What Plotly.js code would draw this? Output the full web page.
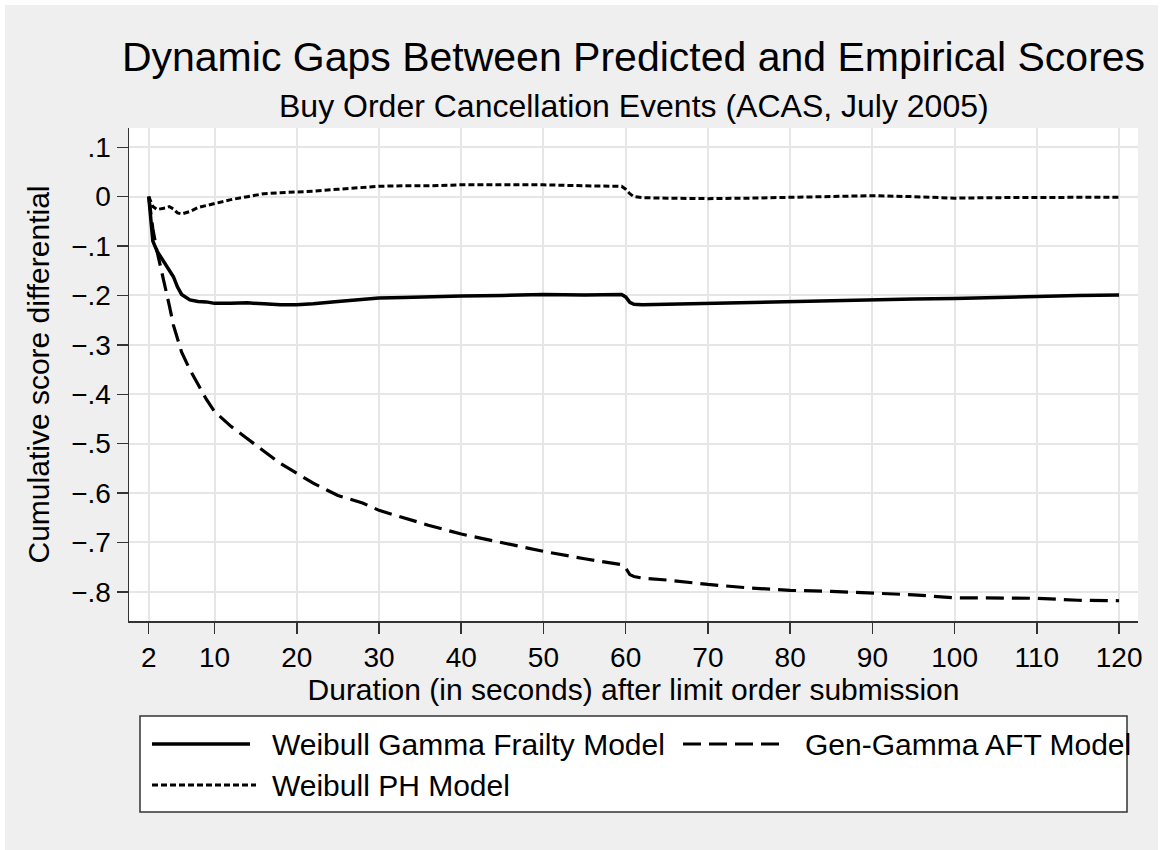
<!DOCTYPE html>
<html>
<head>
<meta charset="utf-8">
<script src="https://cdn.plot.ly/plotly-3.0.1.min.js"></script>
<style>
  html, body { margin: 0; padding: 0; background: #ffffff; }
  #chart { position: absolute; left: 5px; top: 5px; width: 1153px; height: 845px; }
</style>
</head>
<body>
<div id="chart"></div>
<script>
// ---- data ----
const durations = [2, 2.5, 3, 3.5, 4, 4.5, 5, 5.5, 6, 7, 8, 9, 10, 12, 14, 16, 18, 20, 22, 25, 28, 30, 33, 36, 40, 45, 50, 55, 59.5, 60, 60.5, 61, 62, 65, 70, 75, 80, 85, 90, 95, 100, 105, 110, 115, 120];

const weibullGammaFrailty = [0, -0.09, -0.11, -0.123, -0.133, -0.146, -0.162, -0.183, -0.198, -0.209, -0.212, -0.213, -0.216, -0.216, -0.215, -0.217, -0.219, -0.219, -0.217, -0.212, -0.208, -0.205, -0.204, -0.202, -0.201, -0.2, -0.198, -0.199, -0.198, -0.203, -0.214, -0.218, -0.219, -0.218, -0.216, -0.214, -0.212, -0.21, -0.208, -0.207, -0.206, -0.204, -0.201, -0.2, -0.199];

const genGammaAFT = [0, -0.065, -0.11, -0.145, -0.18, -0.22, -0.26, -0.29, -0.315, -0.35, -0.38, -0.41, -0.435, -0.465, -0.49, -0.515, -0.54, -0.56, -0.58, -0.605, -0.62, -0.635, -0.65, -0.665, -0.683, -0.7, -0.718, -0.733, -0.745, -0.752, -0.765, -0.769, -0.772, -0.776, -0.785, -0.792, -0.797, -0.799, -0.802, -0.806, -0.812, -0.812, -0.813, -0.817, -0.818];

const weibullPH = [0, -0.02, -0.026, -0.025, -0.023, -0.02, -0.025, -0.033, -0.035, -0.03, -0.022, -0.018, -0.014, -0.006, 0.0, 0.006, 0.008, 0.009, 0.011, 0.015, 0.019, 0.021, 0.022, 0.022, 0.024, 0.024, 0.024, 0.022, 0.021, 0.015, 0.006, 0.0, -0.002, -0.003, -0.004, -0.003, -0.001, 0.0, 0.002, 0.0, -0.003, -0.002, -0.002, -0.001, -0.001];

const seriesNames = ["Weibull Gamma Frailty Model", "Gen-Gamma AFT Model", "Weibull PH Model"];

const xTickVals = [2, 10, 20, 30, 40, 50, 60, 70, 80, 90, 100, 110, 120];
const xTickText = ["2", "10", "20", "30", "40", "50", "60", "70", "80", "90", "100", "110", "120"];
const yTickVals = [0.1, 0, -0.1, -0.2, -0.3, -0.4, -0.5, -0.6, -0.7, -0.8];
const yTickText = [".1", "0", "\u2212.1", "\u2212.2", "\u2212.3", "\u2212.4", "\u2212.5", "\u2212.6", "\u2212.7", "\u2212.8"];

const titleText = "Dynamic Gaps Between Predicted and Empirical Scores";
const subtitleText = "Buy Order Cancellation Events (ACAS, July 2005)";
const xTitle = "Duration (in seconds) after limit order submission";
const yTitle = "Cumulative score differential";

// ---- layout helpers (page pixel -> paper coords) ----
const PL = 129, PR = 1138, PT = 128, PB = 621;
const px = x => (x - PL) / (PR - PL);
const py = y => (PB - y) / (PB - PT);

const FONT = "Liberation Sans, Arial, Helvetica, sans-serif";
const styles = [
  {color: "#000", width: 3.5, dash: "solid"},
  {color: "#000", width: 3.2, dash: "18px,8px"},
  {color: "#000", width: 3.0, dash: "6px,3px"}
];

const traces = [
  {x: durations, y: weibullGammaFrailty, name: seriesNames[0], mode: "lines", line: styles[0]},
  {x: durations, y: genGammaAFT, name: seriesNames[1], mode: "lines", line: styles[1]},
  {x: durations, y: weibullPH, name: seriesNames[2], mode: "lines", line: styles[2]}
];

const shapes = [
  // legend frame
  {type: "rect", xref: "paper", yref: "paper", x0: px(140), x1: px(1127), y0: py(812), y1: py(716),
   fillcolor: "#ffffff", line: {color: "#333333", width: 1.5}, layer: "above"},
  // legend keys
  {type: "line", xref: "paper", yref: "paper", x0: px(152), x1: px(250), y0: py(744), y1: py(744), line: styles[0]},
  {type: "line", xref: "paper", yref: "paper", x0: px(683), x1: px(787), y0: py(744), y1: py(744), line: styles[1]},
  {type: "line", xref: "paper", yref: "paper", x0: px(152), x1: px(256), y0: py(785), y1: py(785), line: styles[2]}
];

const annotations = [
  {text: subtitleText, xref: "paper", yref: "paper", x: 0.5, y: py(106), xanchor: "center", yanchor: "middle",
   showarrow: false, font: {family: FONT, size: 32, color: "#000"}},
  {text: seriesNames[0], xref: "paper", yref: "paper", x: px(270), y: py(744), xanchor: "left", yanchor: "middle",
   showarrow: false, font: {family: FONT, size: 30, color: "#000"}},
  {text: seriesNames[1], xref: "paper", yref: "paper", x: px(803), y: py(744), xanchor: "left", yanchor: "middle",
   showarrow: false, font: {family: FONT, size: 30, color: "#000"}},
  {text: seriesNames[2], xref: "paper", yref: "paper", x: px(270), y: py(785), xanchor: "left", yanchor: "middle",
   showarrow: false, font: {family: FONT, size: 30, color: "#000"}}
];

const layout = {
  width: 1153, height: 845,
  paper_bgcolor: "#efefef",
  plot_bgcolor: "#ffffff",
  margin: {l: PL - 5, r: 1158 - PR, t: PT - 5, b: 850 - PB, pad: 0},
  showlegend: false,
  font: {family: FONT, size: 28, color: "#000"},
  title: {text: titleText, font: {family: FONT, size: 41, color: "#000"},
          x: 0.5, xref: "paper", y: 1 - (57 - 5) / 845, yref: "container", yanchor: "middle"},
  xaxis: {
    range: [-0.4, 122.3], tickvals: xTickVals, ticktext: xTickText,
    showgrid: true, gridcolor: "#e6e6e6", gridwidth: 2,
    showline: true, linecolor: "#333333", linewidth: 1.5,
    ticks: "outside", ticklen: 11, tickwidth: 1.5, tickcolor: "#333333",
    zeroline: false, tickfont: {family: FONT, size: 28, color: "#000"},
    title: {text: xTitle, font: {family: FONT, size: 30, color: "#000"}, standoff: 0},
    automargin: false
  },
  yaxis: {
    range: [-0.859, 0.139], tickvals: yTickVals, ticktext: yTickText,
    showgrid: true, gridcolor: "#e6e6e6", gridwidth: 2,
    showline: true, linecolor: "#333333", linewidth: 1.5,
    ticks: "outside", ticklen: 11, tickwidth: 1.5, tickcolor: "#333333",
    zeroline: false, tickfont: {family: FONT, size: 28, color: "#000"},
    title: {text: yTitle, font: {family: FONT, size: 30, color: "#000"}, standoff: 12},
    automargin: false
  },
  shapes: shapes,
  annotations: annotations
};

Plotly.newPlot("chart", traces, layout, {displayModeBar: false, staticPlot: true});
</script>
</body>
</html>
